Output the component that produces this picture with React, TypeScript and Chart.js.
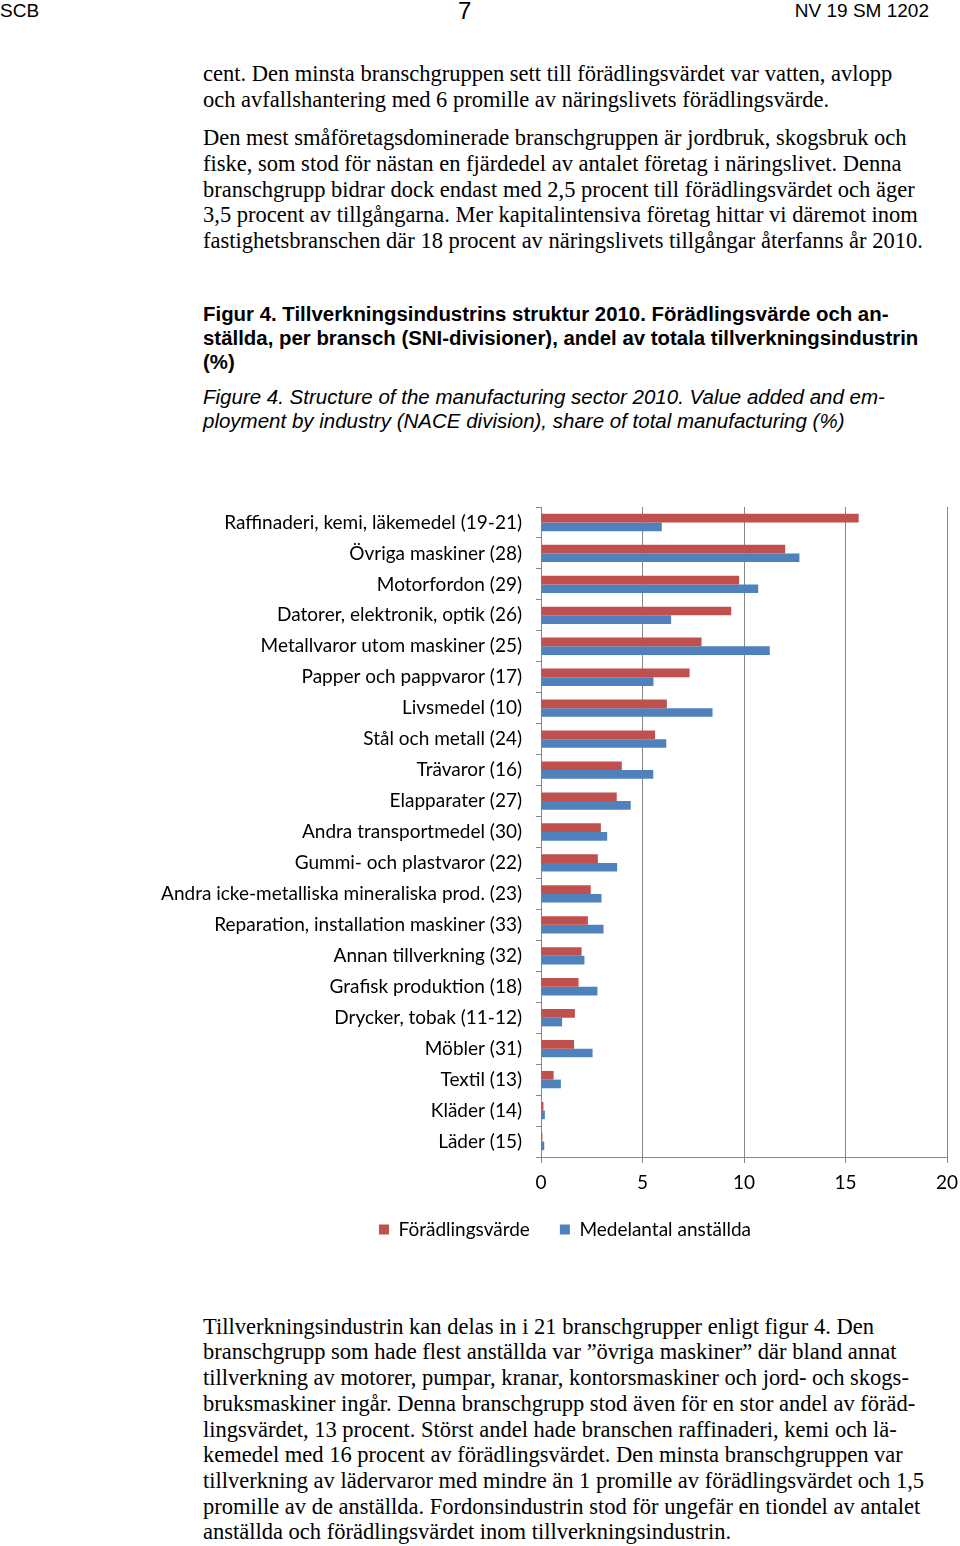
import React, { useEffect, useRef } from "react";
import { Chart, registerables } from "chart.js";
Chart.register(...registerables);

const categories = [
  "Raffinaderi, kemi, läkemedel (19-21)",
  "Övriga maskiner (28)",
  "Motorfordon (29)",
  "Datorer, elektronik, optik (26)",
  "Metallvaror utom maskiner (25)",
  "Papper och pappvaror (17)",
  "Livsmedel (10)",
  "Stål och metall (24)",
  "Trävaror (16)",
  "Elapparater (27)",
  "Andra transportmedel (30)",
  "Gummi- och plastvaror (22)",
  "Andra icke-metalliska mineraliska prod. (23)",
  "Reparation, installation maskiner (33)",
  "Annan tillverkning (32)",
  "Grafisk produktion (18)",
  "Drycker, tobak (11-12)",
  "Möbler (31)",
  "Textil (13)",
  "Kläder (14)",
  "Läder (15)",
];

const forädlingsvärde = [15.65, 12.03, 9.76, 9.37, 7.91, 7.32, 6.2, 5.62, 3.98, 3.73, 2.95, 2.8, 2.45, 2.31, 2.0, 1.85, 1.67, 1.63, 0.62, 0.12, 0.07];
const medelantal = [5.95, 12.73, 10.7, 6.41, 11.27, 5.54, 8.45, 6.17, 5.53, 4.42, 3.26, 3.75, 2.98, 3.08, 2.14, 2.78, 1.04, 2.54, 0.98, 0.19, 0.16];

const seriesNames = ["Förädlingsvärde", "Medelantal anställda"];
const xTicks = [0, 5, 10, 15, 20];

const headerLeft = "SCB";
const headerCenter = "7";
const headerRight = "NV 19 SM 1202";

const topParagraphs = [
  { y: 74, t: "cent. Den minsta branschgruppen sett till förädlingsvärdet var vatten, avlopp" },
  { y: 100, t: "och avfallshantering med 6 promille av näringslivets förädlingsvärde." },
  { y: 138, t: "Den mest småföretagsdominerade branschgruppen är jordbruk, skogsbruk och" },
  { y: 164, t: "fiske, som stod för nästan en fjärdedel av antalet företag i näringslivet. Denna" },
  { y: 190, t: "branschgrupp bidrar dock endast med 2,5 procent till förädlingsvärdet och äger" },
  { y: 215, t: "3,5 procent av tillgångarna. Mer kapitalintensiva företag hittar vi däremot inom" },
  { y: 241, t: "fastighetsbranschen där 18 procent av näringslivets tillgångar återfanns år 2010." },
];

const captionBold = [
  { y: 314, t: "Figur 4. Tillverkningsindustrins struktur 2010. Förädlingsvärde och an-" },
  { y: 338, t: "ställda, per bransch (SNI-divisioner), andel av totala tillverkningsindustrin" },
  { y: 362, t: "(%)" },
];

const captionItalic = [
  { y: 397, t: "Figure 4. Structure of the manufacturing sector 2010. Value added and em-" },
  { y: 421, t: "ployment by industry (NACE division), share of total manufacturing (%)" },
];

const bottomParagraph = [
  { y: 1327, t: "Tillverkningsindustrin kan delas in i 21 branschgrupper enligt figur 4. Den" },
  { y: 1352, t: "branschgrupp som hade flest anställda var ”övriga maskiner” där bland annat" },
  { y: 1378, t: "tillverkning av motorer, pumpar, kranar, kontorsmaskiner och jord- och skogs-" },
  { y: 1404, t: "bruksmaskiner ingår. Denna branschgrupp stod även för en stor andel av föräd-" },
  { y: 1430, t: "lingsvärdet, 13 procent. Störst andel hade branschen raffinaderi, kemi och lä-" },
  { y: 1455, t: "kemedel med 16 procent av förädlingsvärdet. Den minsta branschgruppen var" },
  { y: 1481, t: "tillverkning av lädervaror med mindre än 1 promille av förädlingsvärdet och 1,5" },
  { y: 1507, t: "promille av de anställda. Fordonsindustrin stod för ungefär en tiondel av antalet" },
  { y: 1532, t: "anställda och förädlingsvärdet inom tillverkningsindustrin." },
];

const SERIF = "'Liberation Serif', 'Times New Roman', serif";
const SANS = "'Liberation Sans', Arial, sans-serif";
const CHART_FONT = "Lato, 'Open Sans', sans-serif";
const GREY = "#868686";

function Line(props: { y: number; t: string; size: number; family: string; weight?: string; italic?: boolean; scaleX?: number }) {
  const { y, t, size, family, weight, italic, scaleX } = props;
  return (
    <div
      style={{
        position: "absolute",
        left: 203,
        top: y - size * 0.5,
        fontFamily: family,
        fontSize: size,
        lineHeight: `${size}px`,
        fontWeight: weight || "normal",
        fontStyle: italic ? "italic" : "normal",
        whiteSpace: "nowrap",
        color: "#000",
        transform: scaleX ? `scaleX(${scaleX})` : undefined,
        transformOrigin: "left center",
      }}
    >
      {t}
    </div>
  );
}

// lets long category labels extend past the layout padding without being clipped
const unclipLabels = {
  id: "unclipLabels",
  afterLayout(chart: any) {
    if (chart.scales && chart.scales.y) chart.scales.y.left = 0;
  },
};

export default function App() {
  const canvasRef = useRef<HTMLCanvasElement | null>(null);

  useEffect(() => {
    const canvas = canvasRef.current;
    if (!canvas) return;
    const chart = new Chart(canvas, {
      type: "bar",
      data: {
        labels: categories,
        datasets: [
          { label: seriesNames[0], data: forädlingsvärde, backgroundColor: "#C0504D", borderWidth: 0 },
          { label: seriesNames[1], data: medelantal, backgroundColor: "#4F81BD", borderWidth: 0 },
        ],
      },
      options: {
        indexAxis: "y",
        animation: false,
        responsive: false,
        maintainAspectRatio: false,
        datasets: { bar: { categoryPercentage: 0.56, barPercentage: 1 } },
        layout: { padding: { left: 43, right: 43, top: 17, bottom: 10 } },
        plugins: {
          tooltip: { enabled: false },
          legend: {
            position: "bottom",
            labels: {
              boxWidth: 10,
              boxHeight: 10,
              padding: 30,
              color: "#000",
              font: { family: CHART_FONT, size: 19 },
            },
          },
        },
        scales: {
          x: {
            min: 0,
            max: 20,
            afterBuildTicks: (scale: any) => {
              scale.ticks = xTicks.map((v) => ({ value: v }));
            },
            afterFit: (scale: any) => {
              scale.height = 33;
            },
            grid: { color: GREY, lineWidth: 1, drawTicks: true, tickLength: 6 },
            border: { color: GREY, width: 1 },
            ticks: { color: "#000", padding: 8, font: { family: CHART_FONT, size: 19 } },
          },
          y: {
            afterFit: (scale: any) => {
              scale.width = 358;
              scale.paddingTop = 0;
              scale.paddingBottom = 0;
            },
            grid: { drawOnChartArea: false, drawTicks: true, tickLength: 5, color: GREY },
            border: { color: GREY, width: 1 },
            ticks: { color: "#000", padding: 14, autoSkip: false, font: { family: CHART_FONT, size: 19 } },
          },
        },
      },
      plugins: [unclipLabels],
    } as any);
    return () => chart.destroy();
  }, []);

  return (
    <div style={{ position: "absolute", left: 0, top: 0, width: 960, height: 1546, overflow: "hidden", background: "#fff" }}>
      <div style={{ position: "absolute", left: 0, top: 1, fontFamily: SANS, fontSize: 19, lineHeight: "19px" }}>{headerLeft}</div>
      <div style={{ position: "absolute", left: 458, top: -1, fontFamily: SANS, fontSize: 24, lineHeight: "24px" }}>{headerCenter}</div>
      <div style={{ position: "absolute", right: 31, top: 1, fontFamily: SANS, fontSize: 19, lineHeight: "19px" }}>{headerRight}</div>
      {topParagraphs.map((l, i) => (
        <Line key={"p" + i} y={l.y} t={l.t} size={22.5} family={SERIF} />
      ))}
      {captionBold.map((l, i) => (
        <Line key={"b" + i} y={l.y} t={l.t} size={20} family={SANS} weight="bold" scaleX={1.02} />
      ))}
      {captionItalic.map((l, i) => (
        <Line key={"i" + i} y={l.y} t={l.t} size={20} family={SANS} italic scaleX={1.025} />
      ))}
      {bottomParagraph.map((l, i) => (
        <Line key={"q" + i} y={l.y} t={l.t} size={22.5} family={SERIF} />
      ))}
      <canvas
        ref={canvasRef}
        width={850}
        height={769}
        style={{ position: "absolute", left: 140, top: 490, width: 850, height: 769 }}
      />
    </div>
  );
}
